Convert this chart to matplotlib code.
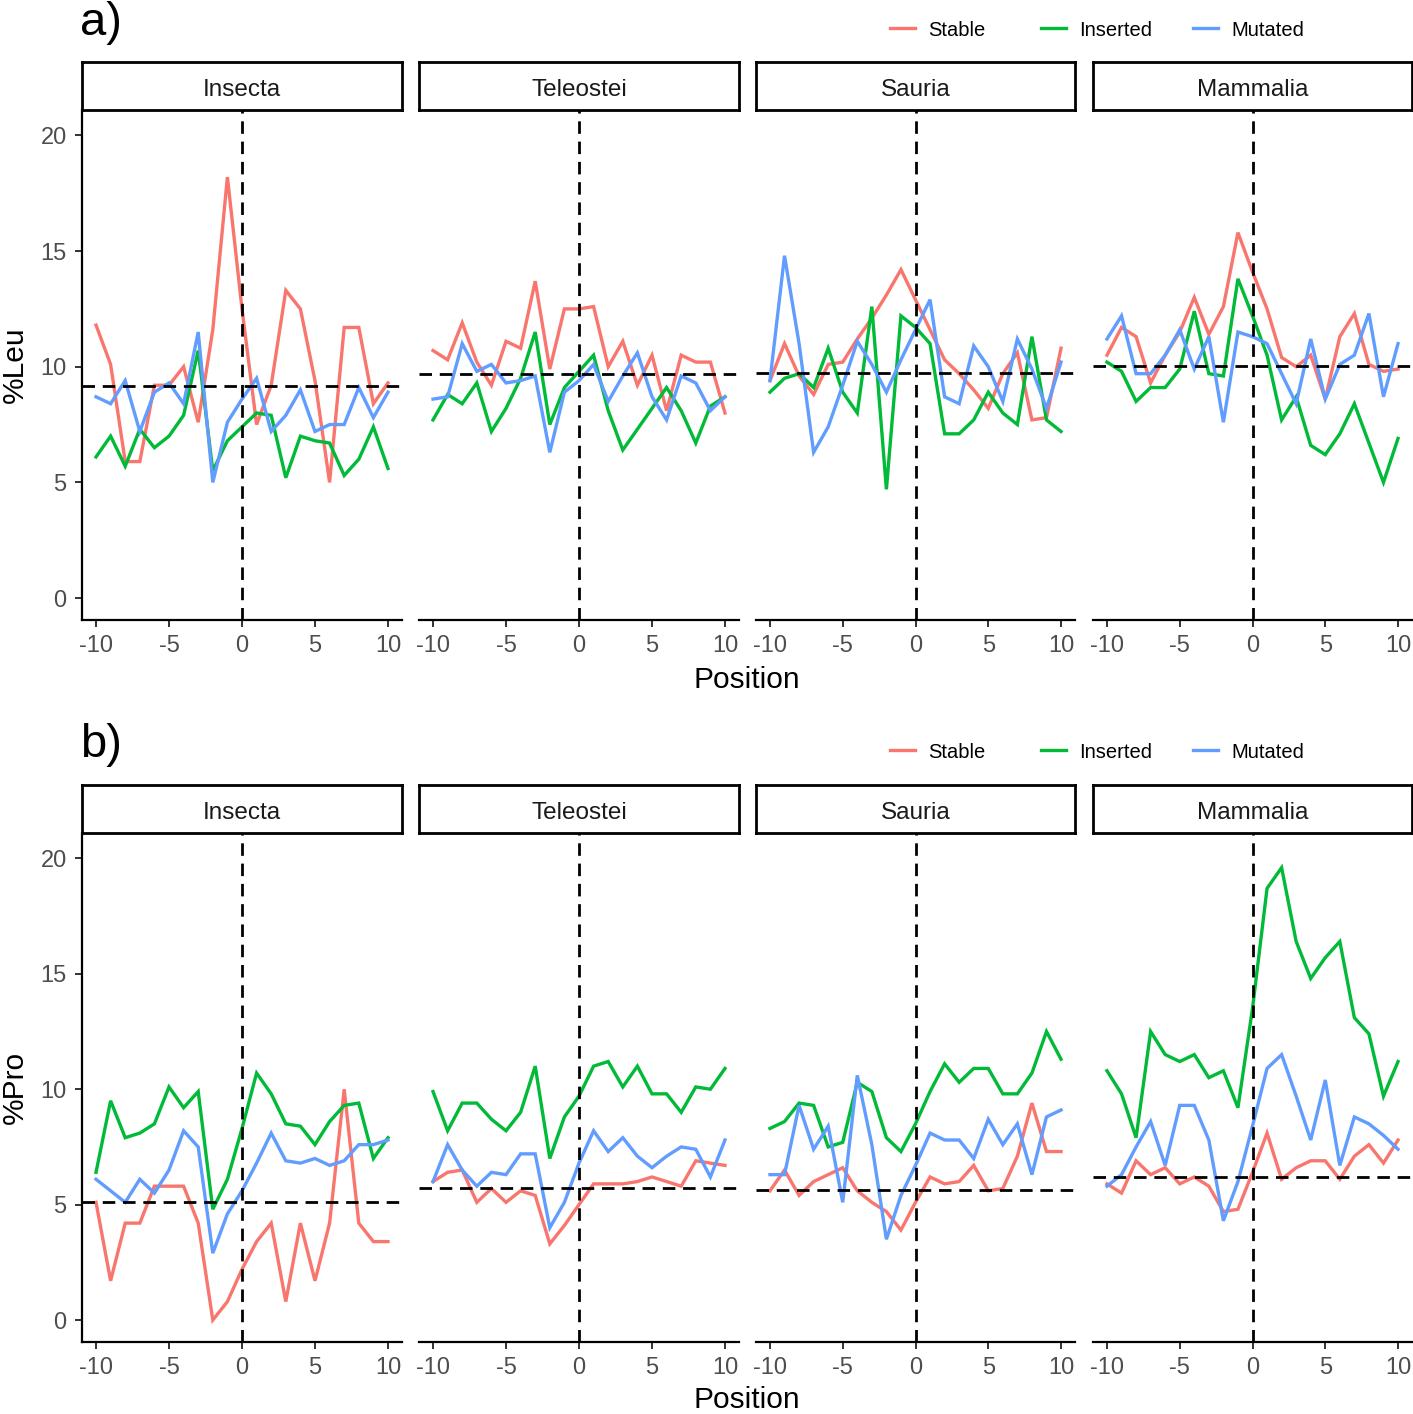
import numpy as np
import matplotlib
matplotlib.use("Agg")
import matplotlib.pyplot as plt

plt.rcParams['font.family'] = ['Liberation Sans', 'DejaVu Sans']
plt.rcParams['axes.unicode_minus'] = False

# --- data ---
positions = np.arange(-10, 11)
clades = ["Insecta", "Teleostei", "Sauria", "Mammalia"]
groups = ["Stable", "Inserted", "Mutated"]
colors = ["#F8766D", "#00BA38", "#619CFF"]

leu_stable = {
    "Insecta":   [11.8, 10.1, 5.9, 5.9, 9.2, 9.2, 10.0, 7.6, 11.6, 18.2, 12.5, 7.5, 9.2, 13.3, 12.5, 9.4, 5.0, 11.7, 11.7, 8.4, 9.3],
    "Teleostei": [10.7, 10.3, 11.9, 10.2, 9.2, 11.1, 10.8, 13.7, 9.9, 12.5, 12.5, 12.6, 10.0, 11.1, 9.2, 10.5, 8.1, 10.5, 10.2, 10.2, 8.0],
    "Sauria":    [9.4, 11.0, 9.6, 8.8, 10.1, 10.2, 11.2, 12.1, 13.1, 14.2, 12.9, 11.6, 10.3, 9.7, 9.0, 8.2, 9.7, 10.6, 7.7, 7.8, 10.8],
    "Mammalia":  [10.5, 11.7, 11.3, 9.3, 10.5, 11.5, 13.0, 11.4, 12.6, 15.8, 14.1, 12.5, 10.4, 10.0, 10.5, 8.6, 11.3, 12.3, 10.1, 9.8, 9.9],
}
leu_inserted = {
    "Insecta":   [6.1, 7.0, 5.7, 7.3, 6.5, 7.0, 7.9, 10.7, 5.5, 6.8, 7.4, 8.0, 7.9, 5.2, 7.0, 6.8, 6.7, 5.3, 6.0, 7.4, 5.6],
    "Teleostei": [7.7, 8.8, 8.4, 9.3, 7.2, 8.2, 9.5, 11.5, 7.5, 9.1, 9.8, 10.5, 8.1, 6.4, 7.3, 8.2, 9.1, 8.1, 6.7, 8.3, 8.7],
    "Sauria":    [8.9, 9.5, 9.7, 9.1, 10.8, 8.9, 8.0, 12.6, 4.7, 12.2, 11.7, 11.0, 7.1, 7.1, 7.7, 8.9, 8.0, 7.5, 11.3, 7.7, 7.2],
    "Mammalia":  [10.2, 9.8, 8.5, 9.1, 9.1, 9.9, 12.4, 9.7, 9.6, 13.8, 12.2, 10.5, 7.7, 8.7, 6.6, 6.2, 7.1, 8.4, 6.7, 5.0, 6.9],
}
leu_mutated = {
    "Insecta":   [8.7, 8.4, 9.4, 7.2, 8.9, 9.3, 8.4, 11.5, 5.0, 7.6, 8.6, 9.5, 7.2, 7.9, 9.0, 7.2, 7.5, 7.5, 9.1, 7.8, 8.9],
    "Teleostei": [8.6, 8.7, 11.0, 9.8, 10.1, 9.3, 9.4, 9.6, 6.3, 8.9, 9.4, 10.1, 8.5, 9.6, 10.6, 8.7, 7.7, 9.6, 9.3, 8.1, 8.7],
    "Sauria":    [9.4, 14.8, 11.0, 6.3, 7.4, 9.2, 11.1, 10.1, 8.9, 10.3, 11.6, 12.9, 8.7, 8.4, 10.9, 10.0, 8.5, 11.2, 9.9, 8.2, 10.2],
    "Mammalia":  [11.2, 12.2, 9.7, 9.7, 10.5, 11.6, 9.9, 11.3, 7.6, 11.5, 11.3, 11.0, 9.7, 8.4, 11.2, 8.6, 10.1, 10.5, 12.3, 8.7, 11.0],
}
leu_ref = [9.15, 9.68, 9.75, 10.04]

pro_stable = {
    "Insecta":   [5.1, 1.7, 4.2, 4.2, 5.8, 5.8, 5.8, 4.2, 0.0, 0.8, 2.2, 3.4, 4.2, 0.8, 4.2, 1.7, 4.2, 10.0, 4.2, 3.4, 3.4],
    "Teleostei": [6.0, 6.4, 6.5, 5.1, 5.7, 5.1, 5.6, 5.4, 3.3, 4.1, 5.0, 5.9, 5.9, 5.9, 6.0, 6.2, 6.0, 5.8, 6.9, 6.8, 6.7],
    "Sauria":    [5.6, 6.5, 5.4, 6.0, 6.3, 6.6, 5.6, 5.1, 4.7, 3.9, 5.1, 6.2, 5.9, 6.0, 6.7, 5.6, 5.7, 7.1, 9.4, 7.3, 7.3],
    "Mammalia":  [5.9, 5.5, 6.9, 6.3, 6.6, 5.9, 6.2, 5.8, 4.7, 4.8, 6.4, 8.1, 6.1, 6.6, 6.9, 6.9, 6.1, 7.1, 7.6, 6.8, 7.8],
}
pro_inserted = {
    "Insecta":   [6.4, 9.5, 7.9, 8.1, 8.5, 10.1, 9.2, 9.9, 4.8, 6.1, 8.3, 10.7, 9.8, 8.5, 8.4, 7.6, 8.6, 9.3, 9.4, 7.0, 7.9],
    "Teleostei": [9.9, 8.2, 9.4, 9.4, 8.7, 8.2, 9.0, 11.0, 7.0, 8.8, 9.7, 11.0, 11.2, 10.1, 11.0, 9.8, 9.8, 9.0, 10.1, 10.0, 10.9],
    "Sauria":    [8.3, 8.6, 9.4, 9.3, 7.5, 7.7, 10.3, 9.9, 7.9, 7.3, 8.5, 9.9, 11.1, 10.3, 10.9, 10.9, 9.8, 9.8, 10.7, 12.5, 11.3],
    "Mammalia":  [10.8, 9.8, 7.9, 12.5, 11.5, 11.2, 11.5, 10.5, 10.8, 9.2, 13.5, 18.7, 19.6, 16.4, 14.8, 15.7, 16.4, 13.1, 12.4, 9.7, 11.2],
}
pro_mutated = {
    "Insecta":   [6.1, 5.6, 5.1, 6.1, 5.5, 6.5, 8.2, 7.5, 2.9, 4.6, 5.6, 6.8, 8.1, 6.9, 6.8, 7.0, 6.7, 6.9, 7.6, 7.6, 7.8],
    "Teleostei": [6.0, 7.6, 6.5, 5.8, 6.4, 6.3, 7.2, 7.2, 4.0, 5.1, 6.8, 8.2, 7.3, 7.9, 7.1, 6.6, 7.1, 7.5, 7.4, 6.2, 7.8],
    "Sauria":    [6.3, 6.3, 9.3, 7.4, 8.4, 5.1, 10.6, 7.6, 3.5, 5.4, 6.7, 8.1, 7.8, 7.8, 7.0, 8.7, 7.6, 8.5, 6.3, 8.8, 9.1],
    "Mammalia":  [5.8, 6.3, 7.5, 8.6, 6.7, 9.3, 9.3, 7.8, 4.3, 6.0, 8.4, 10.9, 11.5, 9.7, 7.8, 10.4, 6.7, 8.8, 8.5, 8.0, 7.4],
}
pro_ref = [5.12, 5.70, 5.63, 6.20]

# --- layout (pixel boxes) ---
W, H = 1413, 1414
panel_x = [(82, 402), (419, 739), (756, 1075), (1093, 1412)]
legend_key_x = [890, 1041, 1193]
rows = [
    dict(tag="a)", ylabel="%Leu", series=[leu_stable, leu_inserted, leu_mutated], ref=leu_ref,
         strip=(62, 110), axes=(110, 620), legend_y=30, tag_y=23, xlab_y=680),
    dict(tag="b)", ylabel="%Pro", series=[pro_stable, pro_inserted, pro_mutated], ref=pro_ref,
         strip=(785, 833), axes=(833, 1342), legend_y=752, tag_y=745, xlab_y=1400),
]


def box(x0, y0, x1, y1):
    return [x0 / W, 1 - y1 / H, (x1 - x0) / W, (y1 - y0) / H]


fig = plt.figure(figsize=(W / 100, H / 100), dpi=100)
dash = (0, (4.5, 2.8))

for row in rows:
    handles = []
    for j, clade in enumerate(clades):
        x0, x1 = panel_x[j]
        ax = fig.add_axes(box(x0, row["axes"][0], x1, row["axes"][1]))
        for g, (series, col) in enumerate(zip(row["series"], colors)):
            ln, = ax.plot(positions, series[clade], color=col, lw=2.4, label=groups[g],
                          solid_joinstyle="miter")
            if j == 0:
                handles.append(ln)
        ax.axvline(0, color="black", lw=2.0, ls=dash)
        ax.axhline(row["ref"][j], color="black", lw=2.0, ls=dash)
        ax.set_xlim(-10.96, 10.96)
        ax.set_ylim(-0.95, 21.1)
        ax.set_xticks([-10, -5, 0, 5, 10])
        ax.set_xticklabels(["-10", "-5", "0", "5", "10"])
        for s in ["top", "right"]:
            ax.spines[s].set_visible(False)
        ax.spines["bottom"].set_linewidth(1.6)
        ax.tick_params(axis="both", length=5, width=1.4, color="#333333",
                       labelcolor="#4D4D4D", labelsize=17, pad=6)
        if j == 0:
            ax.spines["left"].set_linewidth(1.6)
            ax.set_yticks([0, 5, 10, 15, 20])
        else:
            ax.spines["left"].set_visible(False)
            ax.set_yticks([])

        # facet strip
        sax = fig.add_axes(box(x0, row["strip"][0], x1, row["strip"][1]))
        sax.set_xticks([])
        sax.set_yticks([])
        for s in sax.spines.values():
            s.set_linewidth(2.0)
            s.set_color("black")
        sax.text(0.5, 0.42, clade, ha="center", va="center", fontsize=17.5, color="#1A1A1A",
                 transform=sax.transAxes)

    ymid = (row["axes"][0] + row["axes"][1]) / 2
    fig.text(15 / W, 1 - ymid / H, row["ylabel"], rotation=90, ha="center", va="center", fontsize=21.5)
    fig.text(747 / W, 1 - row["xlab_y"] / H, "Position", ha="center", va="center", fontsize=21.5)
    fig.text(80 / W, 1 - row["tag_y"] / H, row["tag"], ha="left", va="center", fontsize=34)
    for h, name, kx in zip(handles, groups, legend_key_x):
        fig.legend([h], [name], loc="center left", bbox_to_anchor=(kx / W, 1 - row["legend_y"] / H),
                   frameon=False, fontsize=14.5, handlelength=1.25, handletextpad=0.65,
                   borderpad=0, borderaxespad=0)

fig.savefig("out.png", dpi=100)
